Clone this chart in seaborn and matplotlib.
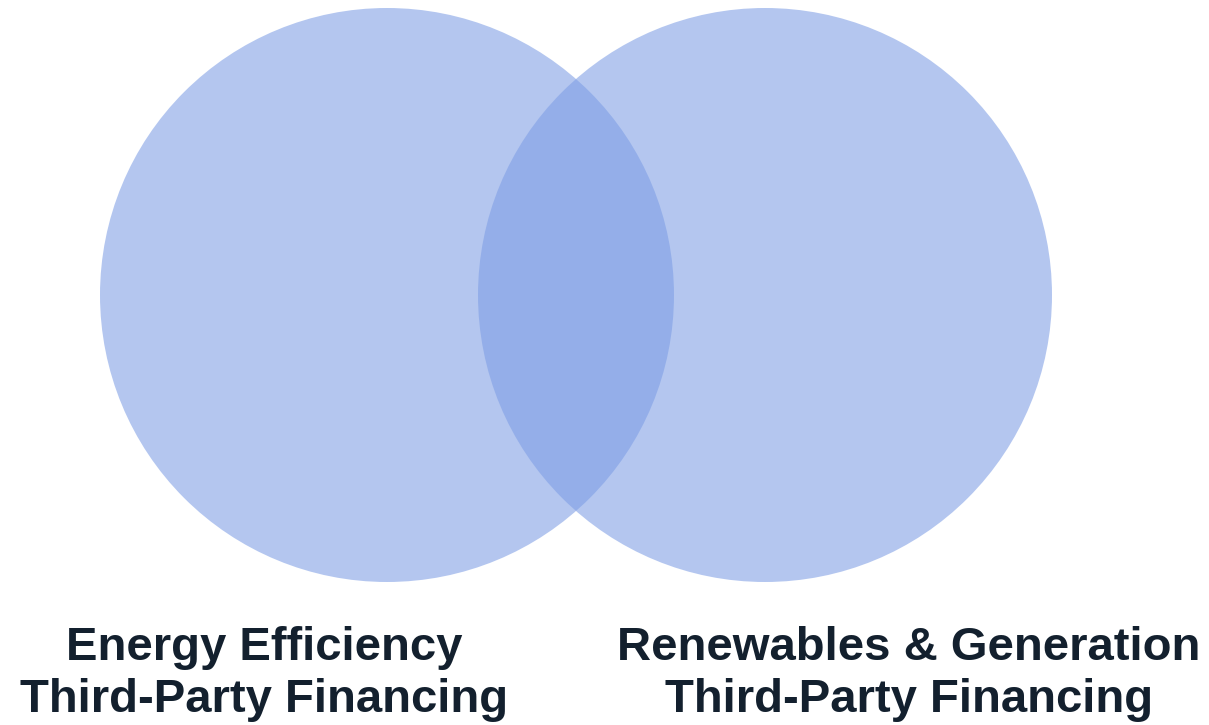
import matplotlib
matplotlib.use("Agg")
import matplotlib.pyplot as plt
from matplotlib.patches import Circle
import seaborn as sns

# Two overlapping financing categories
set_labels = ["Energy Efficiency\nThird-Party Financing",
              "Renewables & Generation\nThird-Party Financing"]
set_centers_x = [387, 765]
set_center_y = 295
set_radius = 287
label_x = [264, 909]

sns.set_theme(style="white")
plt.rcParams["font.family"] = ["Liberation Sans", "DejaVu Sans"]

fig = plt.figure(figsize=(12.09, 7.25), dpi=100)
ax = fig.add_axes([0, 0, 1, 1])
ax.set_xlim(0, 1209)
ax.set_ylim(725, 0)
ax.set_aspect("equal")
ax.axis("off")

fill = "#7e9ee5"
for cx in set_centers_x:
    ax.add_patch(Circle((cx, set_center_y), set_radius, facecolor=fill,
                        edgecolor="none", alpha=0.58, zorder=1))

for x, lab in zip(label_x, set_labels):
    ax.text(x, 674, lab, ha="center", va="center", fontsize=34,
            fontweight="bold", color="#13202e", linespacing=1.22)

fig.savefig("out.png", dpi=100)
